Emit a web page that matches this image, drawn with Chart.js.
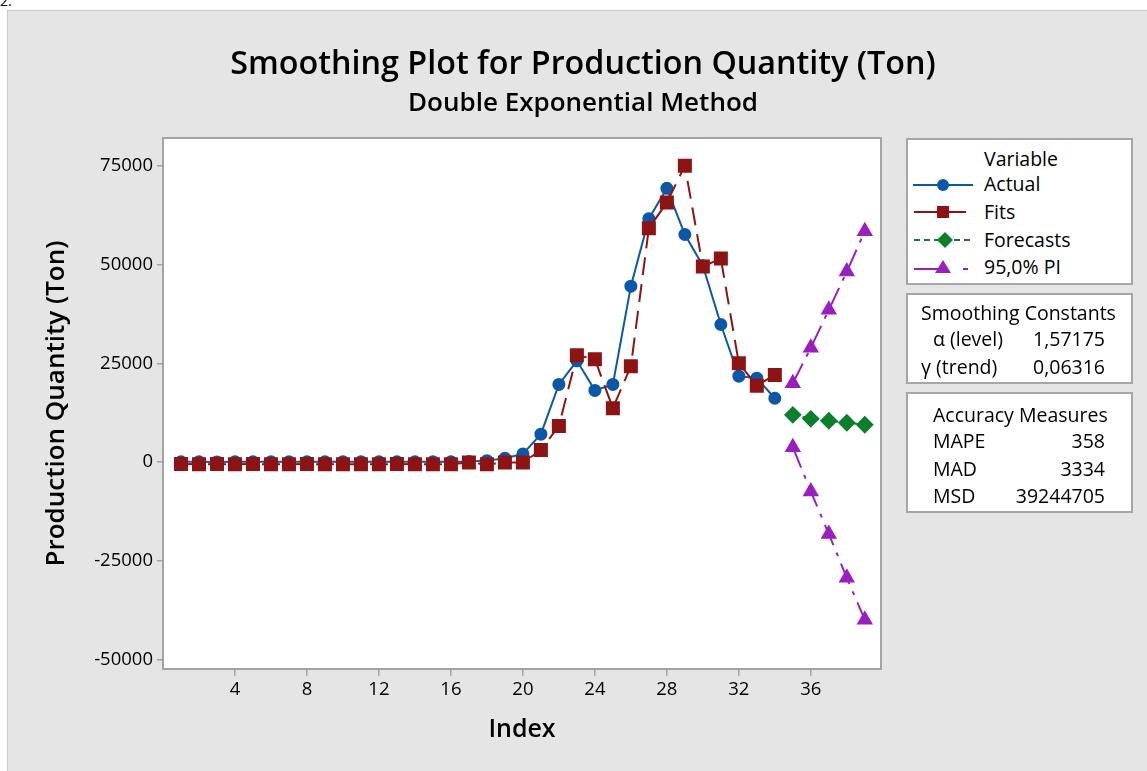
<!DOCTYPE html>
<html>
<head>
<meta charset="utf-8">
<script src="https://cdn.jsdelivr.net/npm/chart.js@4.4.1/dist/chart.umd.min.js"></script>
<style>
body { margin:0; width:1147px; height:771px; position:relative; background:#fff; font-family:'Open Sans', sans-serif; overflow:hidden; color:#000; }
#panel { position:absolute; left:7px; top:10px; right:0; bottom:0; background:#e5e5e5; border-top:1px solid #cacaca; border-left:1px solid #cacaca; }
#chart { position:absolute; left:0; top:0; }
.ttl { position:absolute; left:0; width:1166px; text-align:center; white-space:nowrap; font-weight:600; }
.box { position:absolute; left:906px; width:227px; box-sizing:border-box; background:#fff; border:2px solid #a6a6a6; }
.t { position:absolute; font-size:19.5px; line-height:24px; white-space:nowrap; }
.r { text-align:right; }
.sym { position:absolute; left:912px; }
#corner { position:absolute; left:0; top:-9px; font-size:14px; }
</style>
</head>
<body>
<div id="corner">2.</div>
<div id="panel"></div>
<canvas id="chart" width="1147" height="771"></canvas>

<div class="ttl" style="top:41px; font-size:32.3px; line-height:40px;">Smoothing Plot for Production Quantity (Ton)</div>
<div class="ttl" style="top:86px; font-size:26px; line-height:30px;">Double Exponential Method</div>

<div class="box" style="top:138px; height:147px;"></div>
<div class="box" style="top:293px; height:91px;"></div>
<div class="box" style="top:392px; height:121px;"></div>

<div class="t" style="left:984px; top:147px;">Variable</div>
<svg class="sym" style="top:177px;" width="64" height="16"><line x1="1" y1="8" x2="61" y2="8" stroke="#0b58a8" stroke-width="2"/><circle cx="31" cy="8" r="6" fill="#0b58a8"/></svg>
<div class="t" style="left:984px; top:172px;">Actual</div>
<svg class="sym" style="top:204px;" width="64" height="16"><line x1="2" y1="8" x2="54" y2="8" stroke="#8e1414" stroke-width="2"/><rect x="25" y="2" width="12" height="12" fill="#8e1414"/></svg>
<div class="t" style="left:984px; top:200px;">Fits</div>
<svg class="sym" style="top:232px;" width="64" height="16"><line x1="2" y1="8" x2="62" y2="8" stroke="#0b7f2c" stroke-width="2" stroke-dasharray="6 4"/><polygon points="33,0 41,8 33,16 25,8" fill="#0b7f2c"/></svg>
<div class="t" style="left:984px; top:228px;">Forecasts</div>
<svg class="sym" style="top:258px;" width="64" height="16"><line x1="2" y1="11" x2="26" y2="11" stroke="#9a1fbf" stroke-width="2"/><line x1="51" y1="11" x2="56" y2="11" stroke="#9a1fbf" stroke-width="2"/><polygon points="31,2 39,15 23,15" fill="#9a1fbf"/></svg>
<div class="t" style="left:984px; top:255px;">95,0% PI</div>

<div class="t" style="left:921px; top:301px;">Smoothing Constants</div>
<div class="t" style="left:933px; top:327px;">α (level)</div>
<div class="t r" style="left:1005px; width:100px; top:327px;">1,57175</div>
<div class="t" style="left:921px; top:355px;">γ (trend)</div>
<div class="t r" style="left:1005px; width:100px; top:355px;">0,06316</div>

<div class="t" style="left:933px; top:403px;">Accuracy Measures</div>
<div class="t" style="left:933px; top:429px;">MAPE</div>
<div class="t r" style="left:1005px; width:100px; top:429px;">358</div>
<div class="t" style="left:933px; top:457px;">MAD</div>
<div class="t r" style="left:1005px; width:100px; top:457px;">3334</div>
<div class="t" style="left:933px; top:484px;">MSD</div>
<div class="t r" style="left:1005px; width:100px; top:484px;">39244705</div>

<script>
// index values
const fitIndex = [1,2,3,4,5,6,7,8,9,10,11,12,13,14,15,16,17,18,19,20,21,22,23,24,25,26,27,28,29,30,31,32,33,34];
const forecastIndex = [35,36,37,38,39];

// production quantity (ton)
const actual = [100,120,80,100,90,110,100,120,90,100,110,90,100,120,100,90,150,400,1000,2100,
    7100,19700,25700,18200,19700,44600,61700,69400,57700,49800,34900,21800,21300,16200];
const fits = [-450,-500,-480,-500,-470,-520,-500,-480,-500,-510,-490,-500,-480,-500,-490,-500,-100,-500,-100,-100,
    3100,9200,27100,26100,13700,24300,59300,65800,75100,49600,51600,25100,19400,22100];
const forecasts = [12000,11000,10500,10000,9500];
const piUpper = [20000,29000,38600,48300,58500];
const piLower = [3800,-7400,-18200,-29300,-39900];

const xTicks = [4,8,12,16,20,24,28,32,36];
const yTicks = [-50000,-25000,0,25000,50000,75000];

function pts(xs, ys) {
    return xs.map((x, i) => ({x: x, y: ys[i]}));
}

const font = "'Open Sans', sans-serif";

const plotFrame = {
    id: 'plotFrame',
    beforeDraw(chart) {
        const {ctx, chartArea: a} = chart;
        ctx.save();
        ctx.fillStyle = '#ffffff';
        ctx.fillRect(a.left, a.top, a.width, a.height);
        ctx.restore();
    },
    afterDraw(chart) {
        const {ctx, chartArea: a} = chart;
        ctx.save();
        ctx.strokeStyle = '#a3a3a3';
        ctx.lineWidth = 2;
        ctx.strokeRect(a.left, a.top, a.width, a.height);
        ctx.restore();
    }
};

new Chart(document.getElementById('chart'), {
    type: 'line',
    data: {
        datasets: [
            {
                label: 'Actual',
                data: pts(fitIndex, actual),
                borderColor: '#0b58a8',
                backgroundColor: '#0b58a8',
                borderWidth: 2,
                pointStyle: 'circle',
                pointRadius: 5.5,
                order: 4
            },
            {
                label: 'Fits',
                data: pts(fitIndex, fits),
                borderColor: '#8e1414',
                backgroundColor: '#8e1414',
                borderWidth: 2,
                borderDash: [18, 9],
                pointStyle: 'rect',
                pointRadius: 8.5,
                order: 3
            },
            {
                label: 'Forecasts',
                data: pts(forecastIndex, forecasts),
                borderColor: '#0b7f2c',
                backgroundColor: '#0b7f2c',
                borderWidth: 2,
                borderDash: [6, 4],
                pointStyle: 'rectRot',
                pointRadius: 7.5,
                order: 2
            },
            {
                label: '95,0% PI',
                data: pts(forecastIndex, piUpper),
                borderColor: '#9a1fbf',
                backgroundColor: '#9a1fbf',
                borderWidth: 2,
                borderDash: [22, 8, 4, 8],
                pointStyle: 'triangle',
                pointRadius: 7.5,
                order: 1
            },
            {
                label: '95,0% PI lower',
                data: pts(forecastIndex, piLower),
                borderColor: '#9a1fbf',
                backgroundColor: '#9a1fbf',
                borderWidth: 2,
                borderDash: [22, 8, 4, 8],
                pointStyle: 'triangle',
                pointRadius: 7.5,
                order: 1
            }
        ]
    },
    options: {
        responsive: false,
        animation: false,
        layout: { padding: { left: 0, top: 138, right: 266, bottom: 12 } },
        plugins: {
            legend: { display: false },
            title: { display: false },
            tooltip: { enabled: false }
        },
        scales: {
            x: {
                type: 'linear',
                min: 0,
                max: 39.9,
                afterBuildTicks: s => { s.ticks = xTicks.map(v => ({value: v})); },
                afterFit: s => { s.height = 90; },
                grid: { drawOnChartArea: false, drawTicks: true, tickLength: 7, color: '#a3a3a3', lineWidth: 1.5 },
                border: { display: false },
                ticks: { autoSkip: false, maxRotation: 0, padding: 3, color: '#000', font: { family: font, size: 18.5 }, callback: v => String(v) },
                title: { display: true, text: 'Index', color: '#000', font: { family: font, size: 25, weight: '600' }, padding: { top: 0, bottom: 14 } }
            },
            y: {
                type: 'linear',
                min: -52400,
                max: 82150,
                afterBuildTicks: s => { s.ticks = yTicks.map(v => ({value: v})); },
                afterFit: s => { s.width = 163; },
                grid: { drawOnChartArea: false, drawTicks: true, tickLength: 6, color: '#a3a3a3', lineWidth: 1.5 },
                border: { display: false },
                ticks: { autoSkip: false, padding: 4, color: '#000', font: { family: font, size: 18.5 }, callback: v => String(v) },
                title: { display: true, text: 'Production Quantity (Ton)', color: '#000', font: { family: font, size: 26, weight: '600' }, padding: { top: 41, bottom: 0 } }
            }
        }
    },
    plugins: [plotFrame]
});
</script>
</body>
</html>
